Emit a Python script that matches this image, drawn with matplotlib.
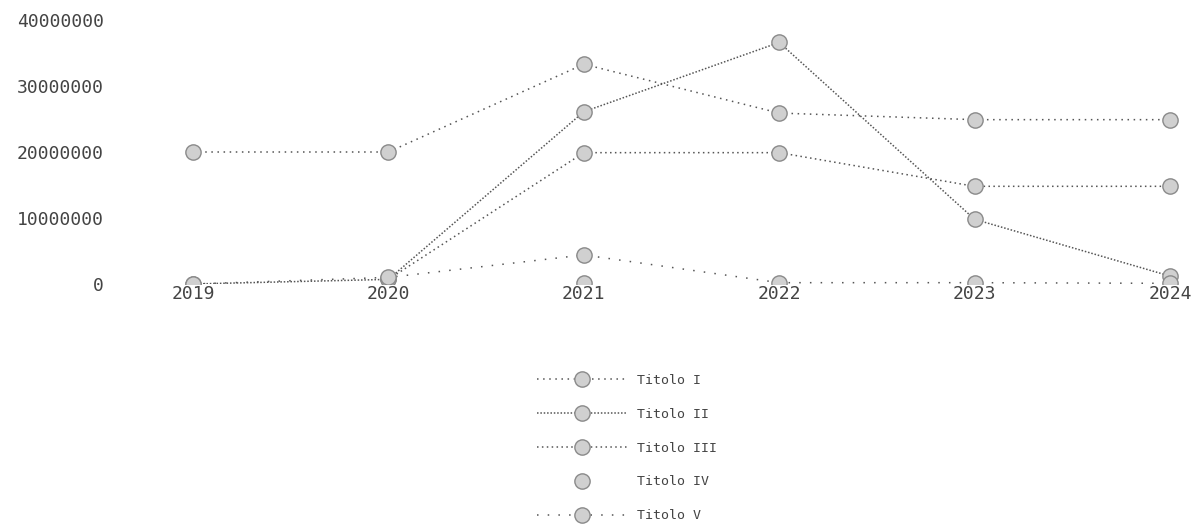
import numpy as np
import matplotlib
matplotlib.use("Agg")
import matplotlib.pyplot as plt
from matplotlib.lines import Line2D

years = [2019, 2020, 2021, 2022, 2023, 2024]
series_names = ["Titolo I", "Titolo II", "Titolo III", "Titolo IV", "Titolo V"]
titolo_1 = [20000000, 20000000, 33300000, 25900000, 24900000, 24900000]
titolo_2 = [0, 700000, 26100000, 36600000, 9800000, 1200000]
titolo_3 = [np.nan, 700000, 19900000, 19900000, 14800000, 14800000]
titolo_4 = [np.nan, np.nan, 100000, np.nan, np.nan, np.nan]
titolo_5 = [0, 1000000, 4400000, 200000, 200000, 100000]
y_ticks = [0, 10000000, 20000000, 30000000, 40000000]

W, H = 1204, 530
fig = plt.figure(figsize=(W / 100, H / 100), dpi=100)
pad_years = 0.1
px_per_year = (1170 - 193) / 5
left_px = 193 - pad_years * px_per_year
right_px = 1170 + pad_years * px_per_year
top_px, bottom_px = 20, 284
ax = fig.add_axes([left_px / W, 1 - bottom_px / H, (right_px - left_px) / W, (bottom_px - top_px) / H])

styles = [(0, (1, 3)), (0, (1, 1.2)), (0, (1, 2.2)), "None", (0, (1, 6))]
all_series = [titolo_1, titolo_2, titolo_3, titolo_4, titolo_5]
line_col = "#555555"
mface, medge, msize = "#d0d0d0", "#8a8a8a", 11
handles = []
for name, vals, ls in zip(series_names, all_series, styles):
    if ls != "None":
        ax.plot(years, vals, linestyle=ls, color=line_col, lw=1.1)
    ax.scatter(years, vals, s=msize ** 2, facecolor=mface, edgecolor=medge,
               linewidths=1.0, zorder=3)
    handles.append(Line2D([], [], linestyle=ls, color=line_col, lw=1.1, marker="o",
                          markersize=msize, markerfacecolor=mface,
                          markeredgecolor=medge, markeredgewidth=1.0, label=name))

ax.set_xlim(2019 - pad_years, 2024 + pad_years)
ax.set_ylim(0, 40000000)
ax.set_xticks(years)
ax.set_xticklabels([str(y) for y in years])
ax.set_yticks(y_ticks)
ax.set_yticklabels([str(v) for v in y_ticks])
for s in ax.spines.values():
    s.set_visible(False)
ax.tick_params(axis="both", length=0, labelsize=13, labelcolor="#444444")
ax.tick_params(axis="y", pad=50)
ax.tick_params(axis="x", pad=1)
for lab in ax.get_xticklabels() + ax.get_yticklabels():
    lab.set_fontfamily("DejaVu Sans Mono")

leg = fig.legend(handles=handles, loc="upper center", bbox_to_anchor=(0.521, 1 - 362 / H),
                 frameon=False, handlelength=6.8, labelspacing=1.58, handletextpad=0.75,
                 prop={"family": "DejaVu Sans Mono", "size": 9.5})
for t in leg.get_texts():
    t.set_color("#444444")

fig.savefig("out.png", dpi=100, facecolor="white")
